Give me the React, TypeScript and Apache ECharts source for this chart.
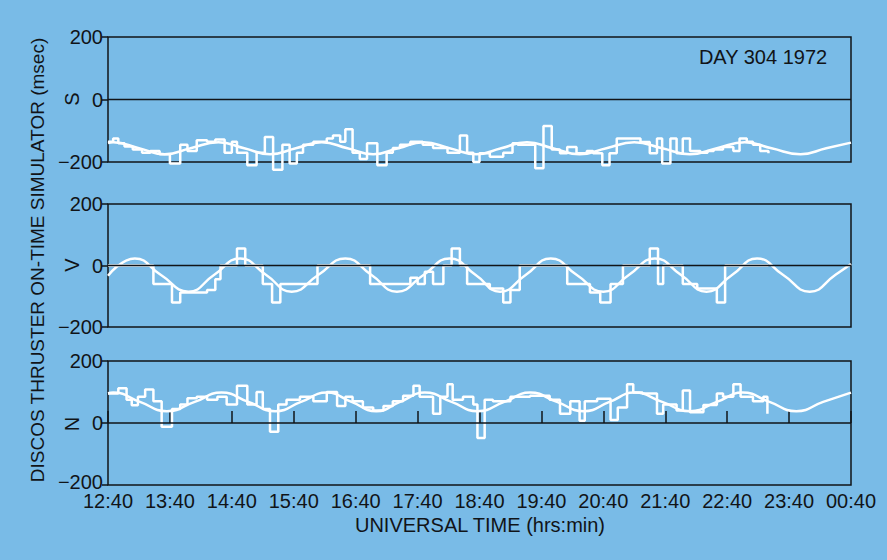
import React, { useEffect, useRef } from 'react';
import * as echarts from 'echarts';

// Minutes after 12:40 UT
const TIME_LABELS = ['12:40', '13:40', '14:40', '15:40', '16:40', '17:40', '18:40', '19:40', '20:40', '21:40', '22:40', '23:40', '00:40'];

const S_STEP_MIN = [0, 5, 10, 16, 24, 33, 41, 50, 60, 70, 77, 86, 96, 104, 113, 120, 125, 135, 144, 152, 160, 169, 176, 183, 189, 199, 212, 218, 225, 230, 237, 244, 251, 261, 270, 276, 283, 293, 305, 315, 329, 341, 348, 354, 360, 370, 383, 392, 397, 414, 422, 430, 438, 445, 454, 464, 470, 479, 486, 493, 516, 525, 532, 537, 545, 551, 557, 564, 574, 581, 587, 596, 606, 612, 619, 625, 632, 640];
const S_STEP_VAL = [-135, -125, -140, -150, -160, -170, -165, -175, -205, -145, -165, -130, -135, -128, -170, -135, -170, -210, -170, -120, -225, -145, -205, -170, -145, -135, -125, -115, -135, -95, -170, -190, -140, -210, -170, -155, -145, -135, -145, -155, -170, -115, -170, -200, -172, -183, -170, -140, -145, -220, -85, -160, -172, -152, -172, -165, -172, -210, -172, -125, -136, -172, -125, -205, -125, -172, -125, -165, -170, -165, -160, -152, -165, -125, -135, -145, -165, -172];
const S_CURVE_MIN = [0, 5, 30, 55, 80, 107, 132, 157, 182, 207, 232, 257, 281, 306, 331, 357, 381, 406, 431, 457, 483, 510, 537, 564, 590, 617, 643, 671, 696, 720];
const S_CURVE_VAL = [-139, -137, -156, -175, -156, -137, -156, -175, -156, -137, -156, -175, -156, -137, -156, -175, -156, -137, -156, -175, -156, -137, -156, -175, -156, -137, -156, -175, -156, -138];

const V_STEP_MIN = [0, 44, 62, 70, 96, 104, 109, 125, 133, 150, 159, 167, 203, 254, 293, 300, 307, 315, 325, 333, 341, 348, 370, 383, 390, 399, 445, 467, 477, 487, 499, 525, 533, 538, 557, 571, 590, 598, 640];
const V_STEP_VAL = [0, -60, -120, -88, -80, -45, 0, 55, 0, -60, -120, -60, 0, -60, -40, -60, -20, -60, 0, 55, 0, -60, -75, -120, -80, 0, -60, -88, -120, -60, 0, 55, -60, 0, -60, -75, -120, 0, 0];
const V_CURVE_MIN = [0, 26, 51, 78, 103, 128, 153, 178, 204, 230, 255, 280, 306, 331, 356, 380, 405, 429, 454, 480, 505, 530, 555, 580, 605, 629, 654, 680, 705, 720];
const V_CURVE_VAL = [-33, 23, -30, -85, -30, 23, -30, -85, -30, 23, -30, -85, -30, 23, -30, -85, -30, 23, -30, -85, -30, 23, -30, -85, -30, 23, -30, -85, -30, 5];

const N_STEP_MIN = [0, 10, 18, 23, 29, 36, 44, 52, 62, 70, 77, 86, 96, 106, 115, 125, 135, 144, 150, 157, 165, 173, 186, 199, 212, 222, 230, 237, 247, 257, 267, 276, 286, 296, 302, 315, 322, 329, 334, 344, 354, 358, 365, 373, 390, 409, 428, 438, 448, 457, 462, 474, 487, 494, 503, 509, 518, 532, 538, 551, 557, 564, 577, 590, 596, 606, 613, 625, 635, 639];
const N_STEP_VAL = [95, 112, 75, 57, 85, 108, 70, -12, 45, 60, 80, 85, 75, 85, 60, 120, 60, 100, 45, -28, 60, 75, 85, 70, 100, 55, 85, 70, 50, 40, 55, 70, 88, 120, 85, 30, 85, 125, 75, 85, 60, -48, 75, 70, 85, 88, 75, 30, 70, 7, 70, 78, 10, 50, 125, 98, 95, 30, 60, 40, 105, 35, 58, 95, 85, 125, 85, 70, 85, 30];
const N_CURVE_MIN = [0, 5, 31, 57, 84, 110, 136, 162, 187, 212, 236, 260, 283, 307, 333, 358, 384, 409, 435, 461, 486, 510, 537, 564, 590, 615, 641, 667, 693, 720];
const N_CURVE_VAL = [96, 98, 68, 38, 68, 98, 68, 38, 68, 98, 68, 38, 68, 98, 68, 38, 68, 98, 68, 38, 68, 98, 68, 38, 68, 98, 68, 38, 68, 98];

const PANEL_LETTERS = ['S', 'V', 'N'];
const Y_TICKS = [-200, 0, 200];

const BG = '#79bbe7';
const INK = '#111418';
const FONT = '"Liberation Sans", Arial, sans-serif';
const FS = 20;

const pairs = (t: number[], v: number[]) => t.map((m, i) => [m, v[i]]);
const fmtY = (v: number) => (v < 0 ? '\u2212' + Math.abs(v) : String(v));

export default function App() {
  const ref = useRef<HTMLDivElement>(null);

  useEffect(() => {
    document.body.style.margin = '0';
    document.body.style.background = BG;
    const chart = echarts.init(ref.current!, null, { renderer: 'svg' });

    const grids = [
      { left: 108, top: 37, width: 743, height: 125 },
      { left: 108, top: 204, width: 743, height: 123 },
      { left: 108, top: 361, width: 743, height: 124 },
    ].map((g) => ({ ...g, show: true, borderColor: INK, borderWidth: 1.5, backgroundColor: 'transparent' }));

    const panels = [
      { step: pairs(S_STEP_MIN, S_STEP_VAL), curve: pairs(S_CURVE_MIN, S_CURVE_VAL) },
      { step: pairs(V_STEP_MIN, V_STEP_VAL), curve: pairs(V_CURVE_MIN, V_CURVE_VAL) },
      { step: pairs(N_STEP_MIN, N_STEP_VAL), curve: pairs(N_CURVE_MIN, N_CURVE_VAL) },
    ];

    const xAxis = [0, 1, 2].map((i) => ({
      type: 'value',
      gridIndex: i,
      min: 0,
      max: 720,
      interval: 60,
      axisLine: { show: false },
      splitLine: { show: false },
      axisTick: i === 2 ? { show: true, inside: true, length: 12, lineStyle: { color: INK, width: 1.5 } } : { show: false },
      axisLabel: i === 2
        ? { show: true, color: INK, fontSize: FS, lineHeight: 14, fontFamily: FONT, margin: 9, formatter: (v: number) => TIME_LABELS[Math.round(v / 60)] }
        : { show: false },
    }));

    const yAxis = [0, 1, 2].map((i) => ({
      type: 'value',
      gridIndex: i,
      min: Y_TICKS[0],
      max: Y_TICKS[2],
      interval: 200,
      axisLine: { show: false },
      splitLine: { show: false },
      axisTick: { show: true, length: 6, lineStyle: { color: INK, width: 1.5 } },
      axisLabel: {
        color: INK,
        fontSize: FS,
        lineHeight: 14,
        fontFamily: FONT,
        margin: 5,
        formatter: i === 2 ? (v: number) => (v < 0 ? '{lift|' + fmtY(v) + '}' : fmtY(v)) : fmtY,
        rich: {
          lift: { fontSize: FS, lineHeight: 14, fontFamily: FONT, color: INK, padding: [0, 0, 7, 0] },
        },
      },
    }));

    const series: any[] = [];
    panels.forEach((p, i) => {
      series.push({
        type: 'line',
        xAxisIndex: i,
        yAxisIndex: i,
        data: p.curve,
        smooth: 0.5,
        showSymbol: false,
        symbol: 'none',
        clip: false,
        lineStyle: { color: '#ffffff', width: 2.5 },
        z: 3,
      });
      series.push({
        type: 'line',
        xAxisIndex: i,
        yAxisIndex: i,
        data: p.step,
        step: 'end',
        showSymbol: false,
        symbol: 'none',
        clip: false,
        lineStyle: { color: '#ffffff', width: 2.5 },
        z: 3,
      });
      series.push({
        type: 'line',
        xAxisIndex: i,
        yAxisIndex: i,
        data: [[0, 0], [720, 0]],
        showSymbol: false,
        symbol: 'none',
        lineStyle: { color: INK, width: 1.6 },
        z: 6,
        silent: true,
      });
    });

    const zeroY = [99, 265, 424];
    const graphic: any[] = [
      {
        type: 'text',
        x: 37,
        y: 260,
        rotation: Math.PI / 2,
        style: { text: 'DISCOS THRUSTER ON-TIME SIMULATOR (msec)', fill: INK, font: `19px ${FONT}`, align: 'center', verticalAlign: 'middle' },
      },
      ...PANEL_LETTERS.map((t, i) => ({
        type: 'text',
        x: 72,
        y: zeroY[i],
        rotation: Math.PI / 2,
        style: { text: t, fill: INK, font: `${FS}px ${FONT}`, align: 'center', verticalAlign: 'middle' },
      })),
      {
        type: 'text',
        x: 763,
        y: 57,
        style: { text: 'DAY 304 1972', fill: INK, font: `${FS}px ${FONT}`, align: 'center', verticalAlign: 'middle' },
      },
      {
        type: 'text',
        x: 480,
        y: 525,
        style: { text: 'UNIVERSAL TIME (hrs:min)', fill: INK, font: `${FS}px ${FONT}`, align: 'center', verticalAlign: 'middle' },
      },
    ];

    chart.setOption({
      animation: false,
      backgroundColor: BG,
      textStyle: { fontFamily: FONT },
      grid: grids,
      xAxis,
      yAxis,
      series,
      graphic,
    });

    return () => chart.dispose();
  }, []);

  return <div ref={ref} style={{ width: 887, height: 560, background: BG }} />;
}
